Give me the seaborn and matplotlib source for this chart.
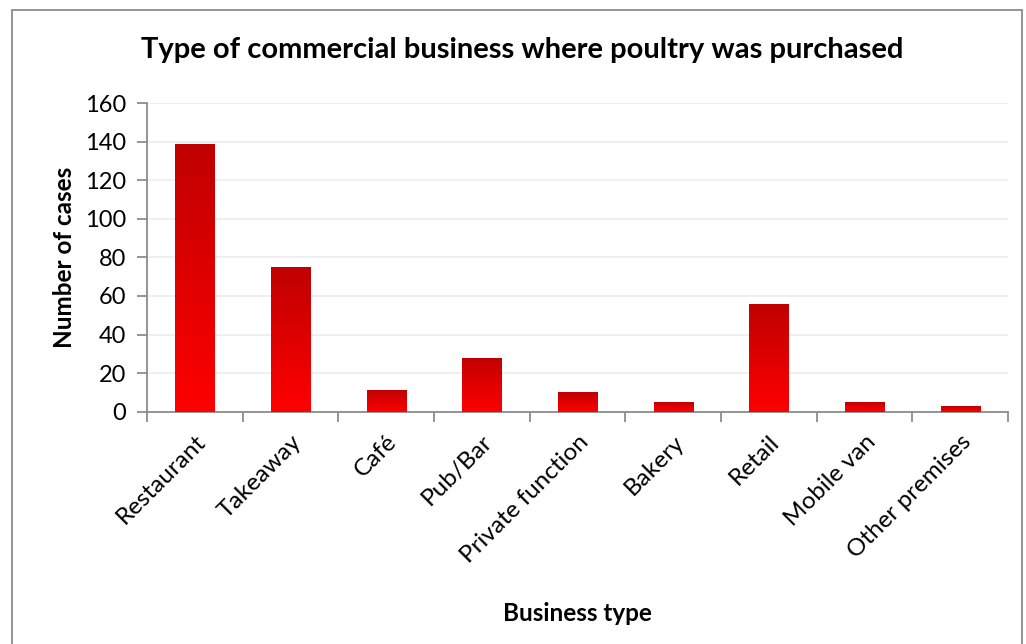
import numpy as np
import pandas as pd
import matplotlib
matplotlib.use("Agg")
import matplotlib.pyplot as plt
import seaborn as sns
from matplotlib.colors import LinearSegmentedColormap
from matplotlib.patches import Rectangle
from matplotlib.ticker import FixedLocator

categories = ["Restaurant", "Takeaway", "Café", "Pub/Bar", "Private function",
              "Bakery", "Retail", "Mobile van", "Other premises"]
cases = [139, 75, 11, 28, 10, 5, 56, 5, 3]
y_ticks = [0, 20, 40, 60, 80, 100, 120, 140, 160]


def main():
    df = pd.DataFrame({"business": categories, "cases": cases})

    sns.set_style("white")
    plt.rcParams["font.family"] = ["Lato", "DejaVu Sans"]
    plt.rcParams["text.color"] = "black"
    plt.rcParams["xtick.labelcolor"] = "black"
    plt.rcParams["ytick.labelcolor"] = "black"
    plt.rcParams["axes.labelcolor"] = "black"

    fig = plt.figure(figsize=(10.26, 6.44), dpi=100)
    ax = fig.add_axes([0.1433, 0.3607, 0.8392, 0.4793])

    sns.barplot(data=df, x="business", y="cases", color="#e00000",
                width=0.41, ax=ax, zorder=3)

    # vertical gradient dark red (top) -> bright red (bottom), clipped to each bar
    cmap = LinearSegmentedColormap.from_list("red_grad", ["#ff0000", "#c00000"])
    grad = np.linspace(0, 1, 256).reshape(-1, 1)
    for p in ax.patches:
        x0, y0 = p.get_x(), p.get_y()
        w, h = p.get_width(), p.get_height()
        p.set_facecolor("none")
        p.set_edgecolor("none")
        im = ax.imshow(grad, cmap=cmap, origin="lower", aspect="auto",
                       extent=[x0, x0 + w, y0, y0 + h], zorder=3)
        im.set_clip_path(p)

    ax.set_xlim(-0.5, len(categories) - 0.5)
    ax.set_ylim(0, 160)
    ax.set_yticks(y_ticks)
    ax.yaxis.grid(True, color="#eeeeee", linewidth=1.3, zorder=0)
    ax.set_axisbelow(True)

    for s in ["top", "right"]:
        ax.spines[s].set_visible(False)
    for s in ["left", "bottom"]:
        ax.spines[s].set_color("#8c8c8c")
        ax.spines[s].set_linewidth(1.3)

    # category boundary ticks like the original
    ax.xaxis.set_major_locator(FixedLocator(np.arange(len(categories))))
    ax.set_xticklabels(categories, rotation=45, ha="right",
                       rotation_mode="anchor", fontsize=17.5)
    ax.tick_params(axis="x", which="major", length=0, pad=14)
    ax.set_xticks(np.arange(-0.5, len(categories)), minor=True)
    ax.tick_params(axis="x", which="minor", length=7, width=1.3,
                   color="#8c8c8c", direction="out", bottom=True)
    ax.tick_params(axis="y", length=7, width=1.3, color="#8c8c8c",
                   direction="out", left=True, labelsize=17, pad=8)

    ax.set_xlabel("Business type", fontsize=17.5, fontweight="bold")
    ax.set_ylabel("Number of cases", fontsize=17.5, fontweight="bold")
    ax.xaxis.set_label_coords(0.5, -0.615)
    ax.yaxis.set_label_coords(-0.083, 0.5)

    fig.text(0.509, 0.922, "Type of commercial business where poultry was purchased",
             fontsize=21, fontweight="bold", ha="center", va="center")

    # chart area frame
    fig.patches.append(Rectangle((12 / 1026, -0.01), 1010 / 1026, 1 - 10 / 644 + 0.01,
                                 transform=fig.transFigure, fill=False,
                                 edgecolor="#8c8c8c", linewidth=1.3))

    fig.savefig("out.png", dpi=100)
    plt.close(fig)


if __name__ == "__main__":
    main()
